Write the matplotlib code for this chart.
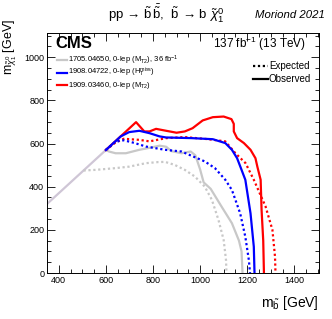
import matplotlib
matplotlib.use('Agg')
import matplotlib.pyplot as plt
from matplotlib.ticker import MultipleLocator

plt.rcParams['font.family'] = ['Liberation Sans', 'DejaVu Sans']
plt.rcParams['mathtext.fontset'] = 'custom'
plt.rcParams['mathtext.rm'] = 'Liberation Sans'
plt.rcParams['mathtext.it'] = 'Liberation Sans:italic'
plt.rcParams['mathtext.bf'] = 'Liberation Sans:bold'

# diagonal part shared by all contours
diag_x = [350, 600]
diag_y = [320, 570]

# 1705.04650 (gray)
gray_obs_x = [600, 613, 641, 685, 742, 785, 828, 856, 878, 921, 960, 980, 1000, 1015, 1045, 1091, 1135, 1165, 1176, 1180]
gray_obs_y = [570, 563, 555, 555, 571, 580, 590, 585, 565, 555, 563, 545, 480, 420, 390, 308, 231, 150, 100, 0]
gray_exp_x = [505, 556, 641, 699, 770, 821, 851, 892, 935, 978, 1020, 1050, 1078, 1100, 1110, 1112]
gray_exp_y = [475, 478, 486, 493, 509, 514, 515, 501, 478, 447, 400, 339, 246, 153, 60, 0]

# 1908.04722 (blue)
blue_obs_x = [600, 663, 699, 742, 785, 828, 856, 964, 1054, 1107, 1135, 1157, 1176, 1192, 1214, 1228, 1231]
blue_obs_y = [570, 633, 653, 659, 648, 633, 628, 625, 620, 602, 571, 532, 478, 432, 277, 122, 0]
blue_exp_x = [600, 641, 676, 720, 770, 851, 921, 964, 1020, 1063, 1107, 1135, 1170, 1192, 1207, 1212]
blue_exp_y = [570, 609, 615, 603, 586, 571, 563, 543, 517, 486, 432, 385, 277, 168, 60, 0]

# 1909.03460 (red)
red_obs_x = [600, 728, 763, 785, 813, 856, 900, 935, 968, 1011, 1054, 1100, 1133, 1143, 1143, 1157, 1186, 1214, 1235, 1243, 1257, 1261, 1268, 1271]
red_obs_y = [570, 699, 656, 656, 668, 659, 650, 656, 671, 707, 722, 725, 713, 691, 656, 625, 602, 571, 532, 493, 432, 292, 150, 0]
red_exp_x = [600, 641, 676, 742, 785, 856, 935, 1035, 1107, 1150, 1193, 1228, 1278, 1307, 1318, 1320]
red_exp_y = [570, 605, 622, 617, 610, 625, 630, 620, 610, 555, 509, 432, 308, 200, 76, 0]

fig = plt.figure(figsize=(3.32, 3.19), dpi=100)
ax = fig.add_axes([0.1416, 0.144, 0.8194, 0.7526])

dots = (0, (1, 1.2))
lw = 1.6
ax.plot(diag_x, diag_y, color='#cfc6d6', lw=lw)
ax.plot(gray_exp_x, gray_exp_y, color='#c8c8c8', lw=lw, ls=dots)
ax.plot(gray_obs_x, gray_obs_y, color='#c8c8c8', lw=lw)
ax.plot(red_exp_x, red_exp_y, color='#ff0000', lw=lw, ls=dots)
ax.plot(red_obs_x, red_obs_y, color='#ff0000', lw=lw)
ax.plot(blue_exp_x, blue_exp_y, color='#0000ff', lw=lw, ls=dots)
ax.plot(blue_obs_x, blue_obs_y, color='#0000ff', lw=lw)

ax.set_xlim(350, 1505)
ax.set_ylim(0, 1112)
ax.xaxis.set_major_locator(MultipleLocator(200))
ax.xaxis.set_minor_locator(MultipleLocator(50))
ax.yaxis.set_major_locator(MultipleLocator(200))
ax.yaxis.set_minor_locator(MultipleLocator(50))
ax.tick_params(which='both', direction='in', top=True, right=True, labelsize=6.5, width=0.6, pad=2)
ax.tick_params(which='major', length=6)
ax.tick_params(which='minor', length=3)
for s in ax.spines.values():
    s.set_linewidth(0.7)

ax.text(0.03, 0.958, 'CMS', transform=ax.transAxes, fontsize=12, fontweight='bold', va='center')
ax.text(0.952, 0.955, r'137 fb$^{-1}$ (13 TeV)', transform=ax.transAxes, fontsize=8.5, ha='right', va='center')

# legend drawn by hand, ROOT-style compact rows
tr = ax.transAxes
leg1 = [('#c8c8c8', r'1705.04650, 0-lep (M$_{\mathrm{T2}}$), 36 fb$^{-1}$'),
        ('#0000ff', r'1908.04722, 0-lep (H$_{\mathrm{T}}^{\mathrm{miss}}$)'),
        ('#ff0000', r'1909.03460, 0-lep (M$_{\mathrm{T2}}$)')]
for i, (c, lab) in enumerate(leg1):
    yy = 0.886 - i * 0.052
    ax.plot([0.037, 0.072], [yy, yy], color=c, lw=1.6, transform=tr)
    ax.text(0.077, yy, lab, transform=tr, fontsize=5.5, va='center')
leg2 = [(dots, 'Expected'), ('-', 'Observed')]
for i, (st, lab) in enumerate(leg2):
    yy = 0.8625 - i * 0.054
    ax.plot([0.757, 0.8125], [yy, yy], color='black', lw=1.6, ls=st, transform=tr)
    ax.text(0.816, yy, lab, transform=tr, fontsize=7, va='center')

fig.text(0.5, 0.958, 'pp → ' + r'$\tilde{\mathrm{b}}\,\bar{\tilde{\mathrm{b}}}$' + ',  ' + r'$\tilde{\mathrm{b}}$'
         + ' → b ' + r'$\tilde{\chi}^{0}_{1}$', fontsize=9.5, ha='center', va='center')
fig.text(0.98, 0.952, 'Moriond 2021', fontsize=8.2, style='italic', ha='right', va='center')
fig.text(0.96, 0.05, r'm$_{\tilde{\mathrm{b}}}$ [GeV]', fontsize=10, ha='right', va='center')
fig.text(0.03, 0.94, r'm$_{\tilde{\chi}^{0}_{1}}$ [GeV]', fontsize=9, rotation=90, ha='center', va='top')

fig.savefig('out.png', dpi=100)
